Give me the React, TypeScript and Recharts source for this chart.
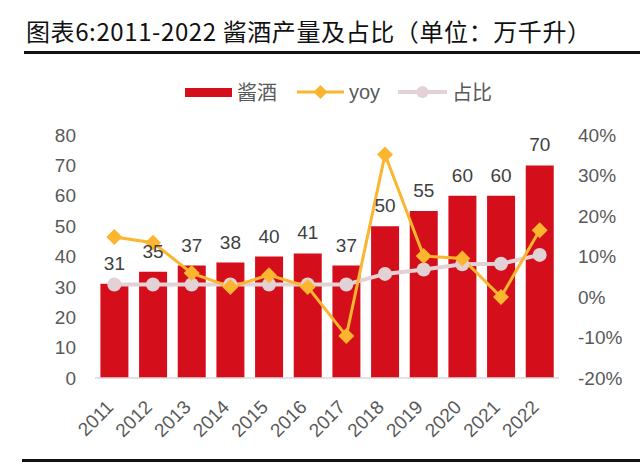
import React from "react";
import {
  ComposedChart,
  Bar,
  Line,
  XAxis,
  YAxis,
  LabelList,
} from "recharts";

const years = ["2011", "2012", "2013", "2014", "2015", "2016", "2017", "2018", "2019", "2020", "2021", "2022"];
const output = [31, 35, 37, 38, 40, 41, 37, 50, 55, 60, 60, 70];
const yoy = [0.148, 0.134, 0.059, 0.025, 0.054, 0.025, -0.096, 0.352, 0.101, 0.095, 0.0, 0.165];
const share = [0.031, 0.031, 0.031, 0.031, 0.031, 0.031, 0.031, 0.057, 0.068, 0.081, 0.082, 0.104];
const leftTicks = [0, 10, 20, 30, 40, 50, 60, 70, 80];
const rightTicks = [-0.2, -0.1, 0, 0.1, 0.2, 0.3, 0.4];

const RED = "#D40F1B";
const YELLOW = "#FBB52E";
const PINK = "#E2D2D5";
const TICK = "#595959";
const FONT = "'Liberation Sans', Arial, sans-serif";

const data = years.map((year, i) => ({
  year,
  output: output[i],
  yoy: yoy[i],
  share: share[i],
}));

const Diamond = (props: any) => {
  const { cx, cy } = props;
  if (cx == null || cy == null) return null;
  const r = 8;
  return (
    <polygon
      points={`${cx},${cy - r} ${cx + r},${cy} ${cx},${cy + r} ${cx - r},${cy}`}
      fill={YELLOW}
    />
  );
};

const YearTick = (props: any) => {
  const { x, y, payload } = props;
  return (
    <g transform={`translate(${x - 4},${y + 18})`}>
      <text
        textAnchor="end"
        transform="rotate(-45)"
        fontSize={19}
        fill={TICK}
        fontFamily={FONT}
        dy={6}
      >
        {payload.value}
      </text>
    </g>
  );
};

const Legend = () => (
  <div
    style={{
      position: "absolute",
      top: 79,
      left: 185,
      display: "flex",
      alignItems: "center",
      fontFamily: "'Noto Sans CJK SC', sans-serif",
      fontSize: 20,
      color: TICK,
      lineHeight: "26px",
      whiteSpace: "nowrap",
    }}
  >
    <span style={{ width: 47, height: 9, background: RED, display: "inline-block" }} />
    <span style={{ marginLeft: 5, marginRight: 20 }}>酱酒</span>
    <svg width={47} height={16}>
      <line x1={0} y1={8} x2={47} y2={8} stroke={YELLOW} strokeWidth={3} />
      <polygon points="23.5,1 30.5,8 23.5,15 16.5,8" fill={YELLOW} />
    </svg>
    <span style={{ marginLeft: 5, marginRight: 18, fontFamily: FONT }}>yoy</span>
    <svg width={49} height={16}>
      <line x1={0} y1={8} x2={49} y2={8} stroke={PINK} strokeWidth={4} />
      <circle cx={24.5} cy={8} r={6} fill={PINK} />
    </svg>
    <span style={{ marginLeft: 5 }}>占比</span>
  </div>
);

export default function App() {
  return (
    <div
      style={{
        position: "absolute",
        left: 0,
        top: 0,
        width: 640,
        height: 464,
        background: "#fff",
        overflow: "hidden",
      }}
    >
      <div
        style={{
          position: "absolute",
          left: 26,
          top: 15,
          fontFamily: "'Noto Sans CJK SC', sans-serif",
          fontSize: 24,
          letterSpacing: 0.6,
          lineHeight: "32px",
          color: "#111",
          whiteSpace: "nowrap",
        }}
      >
        图表6:2011-2022 酱酒产量及占比（单位：万千升）
      </div>
      <div style={{ position: "absolute", left: 24, top: 51, width: 616, height: 3, background: "#111" }} />
      <Legend />
      <ComposedChart
        width={640}
        height={464}
        data={data}
        margin={{ top: 135, right: 11, bottom: 26, left: 35 }}
        barCategoryGap="14%"
      >
        <XAxis
          dataKey="year"
          axisLine={{ stroke: "#D9D9D9", strokeWidth: 1.5 }}
          tickLine={false}
          tick={<YearTick />}
          interval={0}
          height={60}
        />
        <YAxis
          yAxisId="left"
          domain={[0, 80]}
          ticks={leftTicks}
          interval={0}
          axisLine={false}
          tickLine={false}
          tickMargin={13}
          width={60}
          tick={{ fontSize: 19, fill: TICK, fontFamily: FONT }}
        />
        <YAxis
          yAxisId="right"
          orientation="right"
          domain={[-0.2, 0.4]}
          ticks={rightTicks}
          interval={0}
          axisLine={false}
          tickLine={false}
          tickMargin={13}
          width={70}
          tickFormatter={(v: number) => `${Math.round(v * 100)}%`}
          tick={{ fontSize: 19, fill: TICK, fontFamily: FONT }}
        />
        <Bar yAxisId="left" dataKey="output" fill={RED} isAnimationActive={false}>
          <LabelList
            dataKey="output"
            position="top"
            offset={14}
            fill="#404040"
            fontSize={19}
            fontFamily={FONT}
          />
        </Bar>
        <Line
          yAxisId="right"
          dataKey="share"
          stroke={PINK}
          strokeWidth={4}
          dot={{ r: 7, fill: PINK, stroke: "none" }}
          activeDot={false}
          isAnimationActive={false}
        />
        <Line
          yAxisId="right"
          dataKey="yoy"
          stroke={YELLOW}
          strokeWidth={3}
          dot={<Diamond />}
          activeDot={false}
          isAnimationActive={false}
        />
      </ComposedChart>
      <div style={{ position: "absolute", left: 22, top: 459, width: 618, height: 2.5, background: "#111" }} />
    </div>
  );
}
